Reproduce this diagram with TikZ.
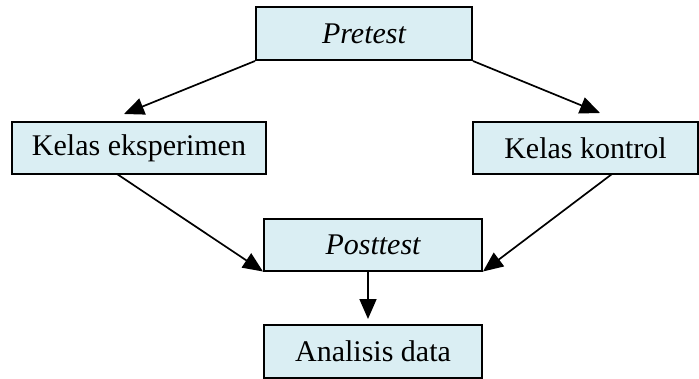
\documentclass[tikz,border=0pt]{standalone}
\usepackage{fontspec}
\setmainfont{Liberation Serif}
\usetikzlibrary{arrows.meta}
\definecolor{boxfill}{HTML}{DAEEF3}
\begin{document}
\begin{tikzpicture}[x=1pt,y=-1pt,
  flowbox/.style={draw=black,fill=boxfill,line width=2pt,inner sep=0pt,
    font=\fontsize{30}{35}\selectfont},
  flowarrow/.style={line width=1.7pt,-{Triangle[length=20pt,width=17pt]}}]
\useasboundingbox (0,0) rectangle (699,378);
\node[flowbox,minimum width=216pt,minimum height=53pt] (pre) at (364,33.5) {\itshape Pretest};
\node[flowbox,minimum width=254pt,minimum height=52pt] (ke) at (139,148) {Kelas eksperimen};
\node[flowbox,minimum width=225pt,minimum height=52pt] (kk) at (585.5,148) {Kelas kontrol};
\node[flowbox,minimum width=218pt,minimum height=52pt] (post) at (373,244.5) {\itshape Posttest};
\node[flowbox,minimum width=218pt,minimum height=53pt] (ana) at (373,351) {Analisis data};
\coordinate (keTip) at (124,114);
\coordinate (kkTip) at (600,113);
\coordinate (keOut) at (117,174);
\coordinate (kkOut) at (612,174);
\coordinate (postOut) at (368,270.5);
\coordinate (anaTip) at (368,319);
\draw[flowarrow] (pre.south west) -- (keTip);
\draw[flowarrow] (pre.south east) -- (kkTip);
\draw[flowarrow] (keOut) -- (post.south west);
\draw[flowarrow] (kkOut) -- (post.south east);
\draw[flowarrow] (postOut) -- (anaTip);
\end{tikzpicture}
\end{document}
